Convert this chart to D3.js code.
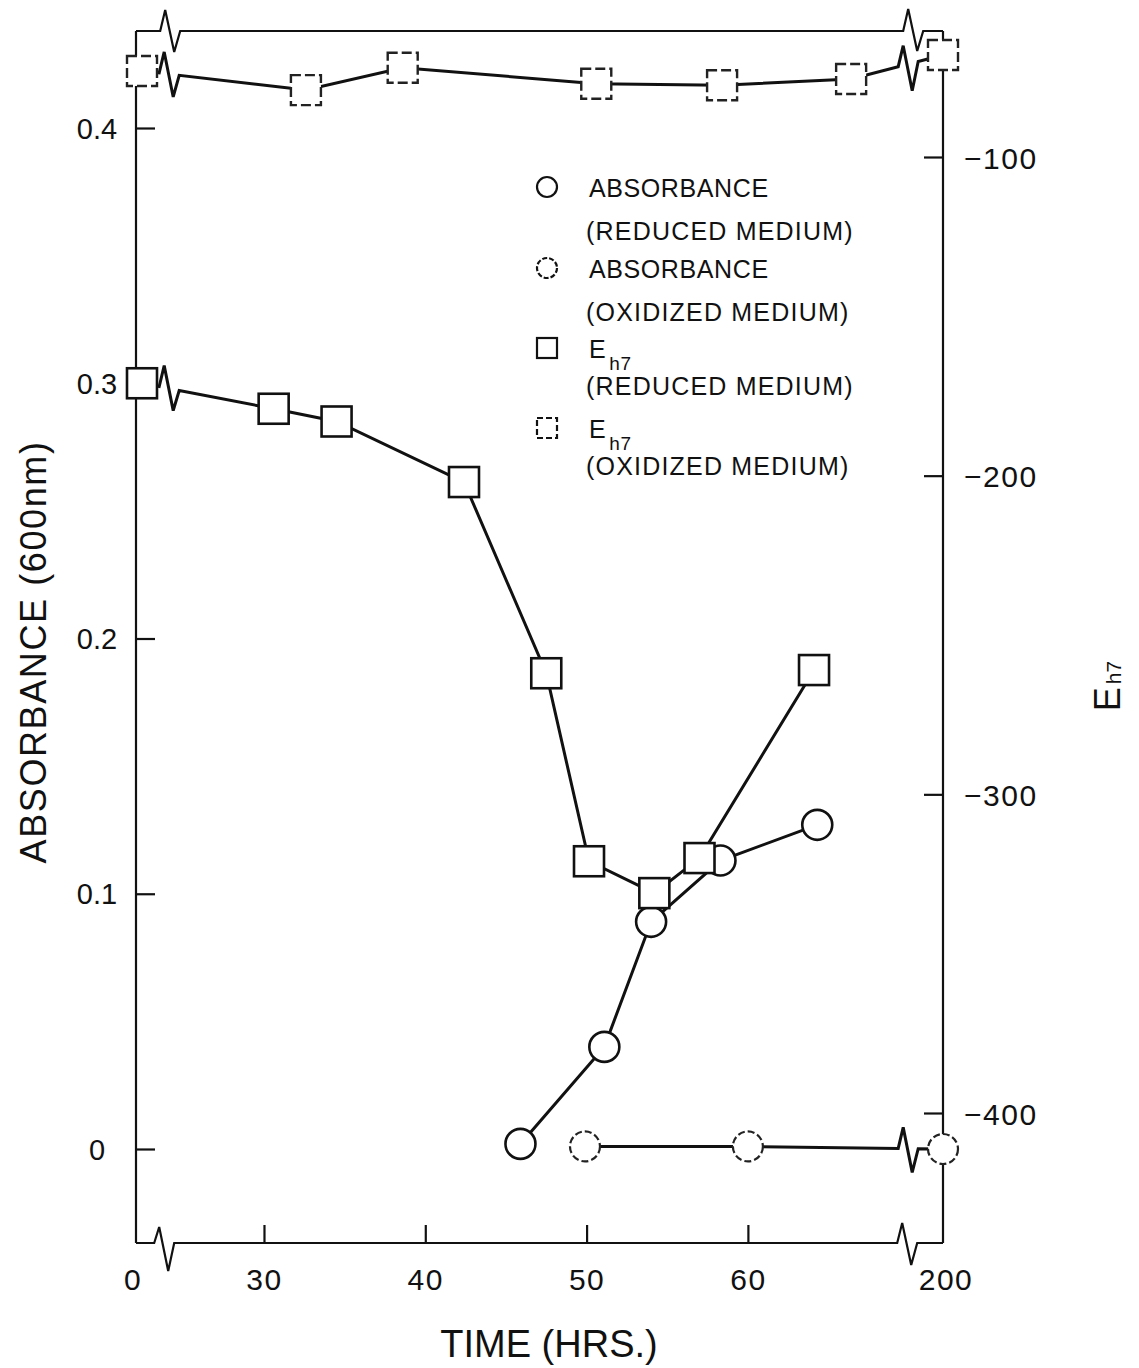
<!DOCTYPE html>
<html>
<head>
<meta charset="utf-8">
<script src="https://cdn.jsdelivr.net/npm/d3@7"></script>
<style>
  html, body { margin: 0; padding: 0; background: #fff; }
  svg { display: block; }
  text { font-family: "Liberation Sans", Arial, sans-serif; fill: #111; }
</style>
</head>
<body>
<svg id="chart" width="1139" height="1368"></svg>
<script>
// ---------------- data ----------------
const ehRedTime  = [0, 30.6, 34.5, 42.4, 47.5, 50.15, 54.2, 57.0, 64.1];
const ehRedVal   = [-171, -179, -183, -202, -262, -321, -331, -320, -261];
const ehOxTime   = [0, 32.6, 38.6, 50.6, 58.4, 66.4, 200];
const ehOxVal    = [-73, -79, -72, -77, -77.5, -75.5, -68];
const absRedTime = [45.9, 51.1, 54.0, 58.3, 64.3];
const absRedVal  = [0.002, 0.040, 0.089, 0.113, 0.127];
const absOxTime  = [49.9, 60, 200];
const absOxVal   = [0.001, 0.001, 0.0];

const xTickValues   = [30, 40, 50, 60];
const xEndValues    = [0, 200];
const absTickValues = [0, 0.1, 0.2, 0.3, 0.4];
const absTickLabels = ["0", "0.1", "0.2", "0.3", "0.4"];
const ehTickValues  = [-100, -200, -300, -400];
const ehTickLabels  = ["\u2212100", "\u2212200", "\u2212300", "\u2212400"];
const breakTimes    = [24, 70];   // axis breaks (between 0 and 30, and between 60 and 200)

const legendItems = [
  { shape: "circle", dashed: false, main: "ABSORBANCE", sub: "", second: "(REDUCED MEDIUM)" },
  { shape: "circle", dashed: true,  main: "ABSORBANCE", sub: "", second: "(OXIDIZED MEDIUM)" },
  { shape: "square", dashed: false, main: "E", sub: "h7", second: "(REDUCED MEDIUM)" },
  { shape: "square", dashed: true,  main: "E", sub: "h7", second: "(OXIDIZED MEDIUM)" }
];

// ---------------- layout ----------------
const frame = { left: 136, right: 943, top: 31, bottom: 1243 };

// broken (piecewise) time axis
const x = d3.scaleLinear()
  .domain([0, breakTimes[0], breakTimes[1], 200])
  .range([142, 167.2, 909.2, frame.right]);
const yA = d3.scaleLinear().domain([0, 0.4]).range([1149, 128]);
const yE = d3.scaleLinear().domain([-100, -400]).range([157, 1113]);

const svg = d3.select("#chart");
const bxL = x(breakTimes[0]), bxR = x(breakTimes[1]);

// zigzag helper: returns points replacing the segment [bx-hw, bx+hw]
function zig(bx, y0, y1, up, down) {
  return [[bx - 10, y0], [bx - 5, y0 - up], [bx + 4, y0 + down], [bx + 10, y1]];
}

// ---------------- frame ----------------
const frameG = svg.append("g").attr("fill", "none").attr("stroke", "#111").attr("stroke-width", 2.2);
const lineGen = d3.line();

frameG.append("line").attr("x1", frame.left).attr("x2", frame.left)
  .attr("y1", frame.top).attr("y2", frame.bottom);
frameG.append("line").attr("x1", frame.right).attr("x2", frame.right)
  .attr("y1", frame.top).attr("y2", frame.bottom);

const topPts = [[frame.left, frame.top]]
  .concat(zig(bxL + 3, frame.top, frame.top, 21, 21))
  .concat(zig(bxR + 4, frame.top, frame.top, 22, 20))
  .concat([[frame.right, frame.top]]);
frameG.append("path").attr("d", lineGen(topPts));

const botPts = [[frame.left, frame.bottom]]
  .concat(zig(bxL - 3, frame.bottom, frame.bottom, 16, 28))
  .concat(zig(bxR - 2, frame.bottom, frame.bottom, 20, 22))
  .concat([[frame.right, frame.bottom]]);
frameG.append("path").attr("d", lineGen(botPts));

// ---------------- axes (ticks inward) ----------------
const tickFont = 30;

const xAxis = d3.axisBottom(x).tickValues(xTickValues).tickSize(-18).tickSizeOuter(0);
const gx = svg.append("g").attr("transform", `translate(0,${frame.bottom})`).call(xAxis);
gx.select(".domain").remove();
gx.selectAll(".tick line").attr("stroke", "#111").attr("stroke-width", 2.2);
gx.selectAll(".tick text").attr("y", 47).attr("dy", 0)
  .attr("font-size", tickFont).attr("letter-spacing", 1.5).style("font-family", "Liberation Sans, Arial, sans-serif").attr("fill", "#111");
svg.append("g").selectAll("text").data(xEndValues).join("text")
  .attr("x", (d, i) => i === 0 ? frame.left - 3 : frame.right + 3)
  .attr("y", frame.bottom + 47)
  .attr("text-anchor", "middle")
  .attr("font-size", tickFont).attr("letter-spacing", 1.5)
  .text(d => d);

const yAxisL = d3.axisLeft(yA).tickValues(absTickValues).tickSize(-19).tickSizeOuter(0)
  .tickFormat((d, i) => absTickLabels[i]);
const gyl = svg.append("g").attr("transform", `translate(${frame.left},0)`).call(yAxisL);
gyl.select(".domain").remove();
gyl.selectAll(".tick line").attr("stroke", "#111").attr("stroke-width", 2.2);
gyl.selectAll(".tick text").attr("x", -39).attr("dy", 10).attr("text-anchor", "middle")
  .attr("font-size", 29).style("font-family", "Liberation Sans, Arial, sans-serif").attr("fill", "#111");

const yAxisR = d3.axisRight(yE).tickValues(ehTickValues).tickSize(-19).tickSizeOuter(0)
  .tickFormat((d, i) => ehTickLabels[i]);
const gyr = svg.append("g").attr("transform", `translate(${frame.right},0)`).call(yAxisR);
gyr.select(".domain").remove();
gyr.selectAll(".tick line").attr("stroke", "#111").attr("stroke-width", 2.2);
gyr.selectAll(".tick text").attr("x", 21).attr("dy", 11).attr("text-anchor", "start")
  .attr("font-size", 30).attr("letter-spacing", 1.5).style("font-family", "Liberation Sans, Arial, sans-serif").attr("fill", "#111");

// ---------------- axis titles ----------------
svg.append("text")
  .attr("transform", "translate(46,652) rotate(-90)")
  .attr("text-anchor", "middle")
  .attr("font-size", 36).attr("letter-spacing", 1.6)
  .text("ABSORBANCE (600nm)");

svg.append("text")
  .attr("x", 549).attr("y", 1357)
  .attr("text-anchor", "middle")
  .attr("font-size", 38)
  .text("TIME (HRS.)");

const rt = svg.append("text")
  .attr("transform", "translate(1120,686) rotate(-90)")
  .attr("text-anchor", "middle");
rt.append("tspan").attr("font-size", 36).text("E");
rt.append("tspan").attr("font-size", 21).attr("dx", 3).attr("dy", 1).text("h7");

// ---------------- series lines (with break zigzags) ----------------
function seriesPoints(times, vals, yScale) {
  return times.map((t, i) => [x(t), yScale(vals[i])]);
}
function brokenPath(pts) {
  const out = [pts[0]];
  for (let i = 1; i < pts.length; i++) {
    const a = pts[i - 1], b = pts[i];
    [bxL + 2, bxR - 1].forEach(bx => {
      if (a[0] < bx - 10 && b[0] > bx + 10) {
        const yy = xx => a[1] + (b[1] - a[1]) * (xx - a[0]) / (b[0] - a[0]);
        zig(bx, yy(bx - 10), yy(bx + 10), 21, 24).forEach(p => out.push(p));
      }
    });
    out.push(b);
  }
  return lineGen(out);
}

const ehRedPts  = seriesPoints(ehRedTime, ehRedVal, yE);
const ehOxPts   = seriesPoints(ehOxTime, ehOxVal, yE);
const absRedPts = seriesPoints(absRedTime, absRedVal, yA);
const absOxPts  = seriesPoints(absOxTime, absOxVal, yA);

const linesG = svg.append("g").attr("fill", "none").attr("stroke", "#111")
  .attr("stroke-width", 3).attr("stroke-linejoin", "miter");
[ehOxPts, ehRedPts, absRedPts, absOxPts].forEach(p => {
  linesG.append("path").attr("d", brokenPath(p));
});

// ---------------- markers ----------------
const R = 15, S = 30;
const markG = svg.append("g");
markG.selectAll("circle.ox").data(absOxPts).join("circle").attr("class", "ox")
  .attr("cx", d => d[0]).attr("cy", d => d[1]).attr("r", R)
  .attr("fill", "#fff").attr("stroke", "#222").attr("stroke-width", 2.2)
  .attr("stroke-dasharray", "7 3");
markG.selectAll("circle.red").data(absRedPts).join("circle").attr("class", "red")
  .attr("cx", d => d[0]).attr("cy", d => d[1]).attr("r", R)
  .attr("fill", "#fff").attr("stroke", "#111").attr("stroke-width", 2.6);
markG.selectAll("rect.ox").data(ehOxPts).join("rect").attr("class", "ox")
  .attr("x", d => d[0] - S / 2).attr("y", d => d[1] - S / 2)
  .attr("width", S).attr("height", S)
  .attr("fill", "#fff").attr("stroke", "#222").attr("stroke-width", 2.4)
  .attr("stroke-dasharray", "10 4");
markG.selectAll("rect.red").data(ehRedPts).join("rect").attr("class", "red")
  .attr("x", d => d[0] - S / 2).attr("y", d => d[1] - S / 2)
  .attr("width", S).attr("height", S)
  .attr("fill", "#fff").attr("stroke", "#111").attr("stroke-width", 2.6);

// ---------------- legend ----------------
const legendRows = [187, 268, 348, 428];
const legG = svg.append("g");
legendItems.forEach((it, i) => {
  const cy = legendRows[i];
  if (it.shape === "circle") {
    legG.append("circle").attr("cx", 547).attr("cy", cy).attr("r", 10)
      .attr("fill", "#fff").attr("stroke", "#111").attr("stroke-width", 2.2)
      .attr("stroke-dasharray", it.dashed ? "5 2" : null);
  } else {
    legG.append("rect").attr("x", 537).attr("y", cy - 10).attr("width", 20).attr("height", 20)
      .attr("fill", "#fff").attr("stroke", "#111").attr("stroke-width", 2.2)
      .attr("stroke-dasharray", it.dashed ? "6 3" : null);
  }
  const t = legG.append("text").attr("x", 589).attr("y", cy + 10)
    .attr("font-size", 25).attr("letter-spacing", 0.6);
  t.append("tspan").text(it.main);
  if (it.sub) {
    t.append("tspan").attr("font-size", 19).attr("dx", 3).attr("dy", 12).text(it.sub);
  }
  legG.append("text").attr("x", 586).attr("y", cy + (it.sub ? 47 : 53))
    .attr("font-size", 25).attr("letter-spacing", 1.2)
    .text(it.second);
});
</script>
</body>
</html>
